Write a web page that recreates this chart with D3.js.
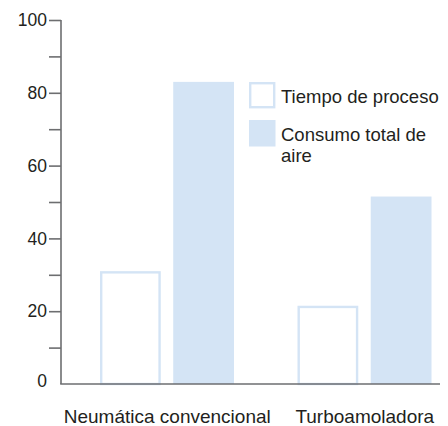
<!DOCTYPE html>
<html><head><meta charset="utf-8">
<script src="https://cdn.jsdelivr.net/npm/d3@7"></script>
<style>
html,body{margin:0;padding:0;background:#fff;}
text{font-family:"Liberation Sans",Arial,Helvetica,sans-serif;fill:#231f20;}
</style></head>
<body><svg id="c" width="448" height="426"></svg>
<script>
const categories = ["Neumática convencional", "Turboamoladora"];
const seriesNames = ["Tiempo de proceso", "Consumo total de aire"];
const tiempoProceso = [31, 21.5];
const consumoAire = [83, 51.5];
const yTicks = [0, 10, 20, 30, 40, 50, 60, 70, 80, 90, 100];
const yTickLabels = ["0", "", "20", "", "40", "", "60", "", "80", "", "100"];

const svg = d3.select("#c");
const blue = "#d4e4f5";
const axisCol = "#6d6e70";

const y = d3.scaleLinear().domain([0, 100]).range([384, 20]);
const x0 = d3.scaleBand().domain(categories).range([68.5, 463.5]);
const x1 = d3.scaleBand().domain(seriesNames).range([31.5, 165.5]).paddingInner(0.17);

// y axis
const yAxis = d3.axisLeft(y).tickValues(yTicks).tickSize(12).tickPadding(2)
  .tickFormat((d, i) => yTickLabels[i]);
const gy = svg.append("g").attr("transform", "translate(61,0)").call(yAxis);
gy.select(".domain").remove();
gy.selectAll(".tick line").attr("stroke", axisCol).attr("stroke-width", 1.6)
  .filter(d => d === 0).remove();
gy.selectAll(".tick text").attr("font-size", 17.5).attr("fill", "#231f20")
  .style("font-family", '"Liberation Sans",Arial,sans-serif');
gy.selectAll(".tick").filter(d => d === 0).select("text").attr("dy", "0.15em");

// bars
const groups = svg.append("g").selectAll("g").data(categories).join("g")
  .attr("transform", d => `translate(${x0(d)},0)`);
groups.append("rect")
  .attr("x", x1(seriesNames[0]) + 1.2)
  .attr("width", x1.bandwidth() - 2.4)
  .attr("y", (d, i) => y(tiempoProceso[i]) + 1.2)
  .attr("height", (d, i) => y(0) - y(tiempoProceso[i]) - 1.2)
  .attr("fill", "#fff").attr("stroke", blue).attr("stroke-width", 2.4);
groups.append("rect")
  .attr("x", x1(seriesNames[1]))
  .attr("width", x1.bandwidth())
  .attr("y", (d, i) => y(consumoAire[i]))
  .attr("height", (d, i) => y(0) - y(consumoAire[i]))
  .attr("fill", blue);

// axis lines
svg.append("line").attr("x1", 61).attr("x2", 61).attr("y1", y(100)).attr("y2", y(0))
  .attr("stroke", axisCol).attr("stroke-width", 1.6);
svg.append("line").attr("x1", 60.2).attr("x2", 440).attr("y1", y(0)).attr("y2", y(0))
  .attr("stroke", axisCol).attr("stroke-width", 1.6);

// x labels
svg.append("g").selectAll("text").data(categories).join("text")
  .attr("x", d => x0(d) + x0.bandwidth() / 2)
  .attr("y", 423)
  .attr("text-anchor", "middle")
  .attr("font-size", 19)
  .text(d => d);

// legend
const leg = svg.append("g");
leg.append("rect").attr("x", 250.2).attr("y", 83.2).attr("width", 24).attr("height", 24)
  .attr("fill", "#fff").attr("stroke", blue).attr("stroke-width", 2.4);
leg.append("rect").attr("x", 249).attr("y", 120).attr("width", 26.5).attr("height", 26.5)
  .attr("fill", blue);
leg.append("text").attr("x", 281).attr("y", 103.3).attr("font-size", 18.5).text(seriesNames[0]);
const t2 = leg.append("text").attr("x", 281).attr("y", 140.7).attr("font-size", 18.5);
t2.append("tspan").attr("x", 281).text("Consumo total de");
t2.append("tspan").attr("x", 281).attr("dy", 21).text("aire");
</script></body></html>
